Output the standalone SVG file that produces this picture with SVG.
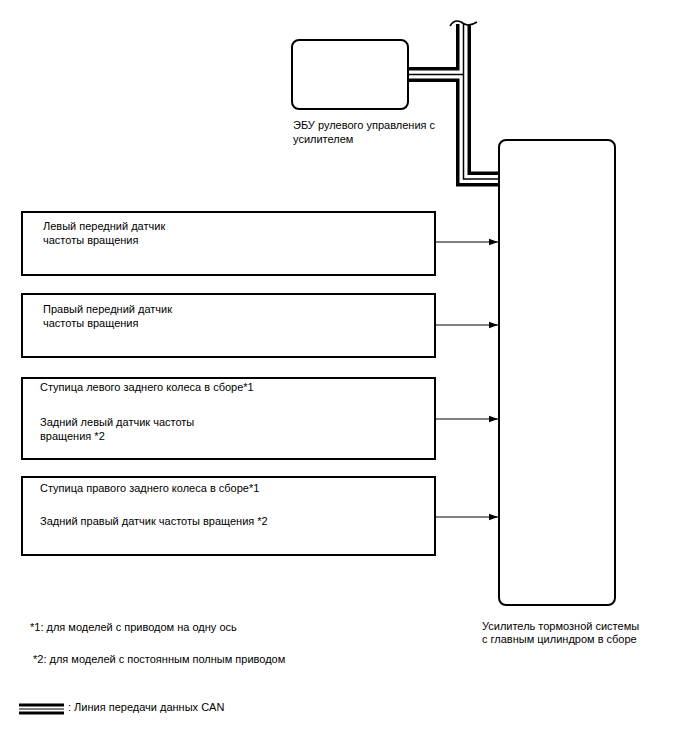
<svg xmlns="http://www.w3.org/2000/svg" width="688" height="755" viewBox="0 0 688 755">
<style>
text{font-family:"Liberation Sans",Arial,sans-serif;font-size:11px;fill:#000}
.box{fill:#fff;stroke:#000;stroke-width:2}
.c1{fill:none;stroke:#000;stroke-width:15}
.c2{fill:none;stroke:#fff;stroke-width:8}
.c3{fill:none;stroke:#000;stroke-width:1.5}
.arr{stroke:#000;stroke-width:1.2;fill:none;marker-end:url(#ah)}
</style>
<defs>
<marker id="ah" markerWidth="10" markerHeight="8" refX="9" refY="4" orient="auto" markerUnits="userSpaceOnUse">
<path d="M0,0.8 L9,4 L0,7.2 Z" fill="#000"/>
</marker>
</defs>
<g id="connectors">
<path class="c1" d="M408,74.5 H463.5 M463.5,24 V179 H499"/>
<path class="c2" d="M408,74.5 H463.5 M463.5,24 V179 H499"/>
<path class="c3" d="M408,74.5 H463.5 M463.5,24 V179 H499"/>
<path d="M450,26 C453,21 457,20 461,22 C465,25 469,27 477,22" fill="none" stroke="#000" stroke-width="1.6"/>
<line class="arr" x1="435" y1="242" x2="498" y2="242"/>
<line class="arr" x1="435" y1="325" x2="498" y2="325"/>
<line class="arr" x1="435" y1="419" x2="498" y2="419"/>
<line class="arr" x1="435" y1="517" x2="498" y2="517"/>
</g>
<g id="ecu">
<rect class="box" x="292" y="40" width="116" height="69" rx="7"/>
<text x="293" y="129">ЭБУ рулевого управления с</text>
<text x="293" y="143">усилителем</text>
</g>
<g id="booster">
<rect class="box" x="499" y="140" width="116" height="465" rx="7"/>
<text x="482" y="630">Усилитель тормозной системы</text>
<text x="482" y="643">с главным цилиндром в сборе</text>
</g>
<g id="fl">
<rect class="box" x="22" y="212" width="413" height="63"/>
<text x="43" y="230">Левый передний датчик</text>
<text x="43" y="244">частоты вращения</text>
</g>
<g id="fr">
<rect class="box" x="22" y="294" width="413" height="63"/>
<text x="43" y="313">Правый передний датчик</text>
<text x="43" y="327">частоты вращения</text>
</g>
<g id="rl">
<rect class="box" x="22" y="378" width="413" height="81"/>
<text x="40" y="391">Ступица левого заднего колеса в сборе*1</text>
<text x="40" y="426">Задний левый датчик частоты</text>
<text x="40" y="440">вращения *2</text>
</g>
<g id="rr">
<rect class="box" x="22" y="477" width="413" height="78"/>
<text x="40" y="492">Ступица правого заднего колеса в сборе*1</text>
<text x="40" y="525">Задний правый датчик частоты вращения *2</text>
</g>
<g id="notes">
<text x="30" y="631">*1: для моделей с приводом на одну ось</text>
<text x="33" y="663">*2: для моделей с постоянным полным приводом</text>
</g>
<g id="legend">
<path d="M19,709 H64" stroke="#000" stroke-width="11" fill="none"/>
<path d="M19,709 H64" stroke="#fff" stroke-width="5" fill="none"/>
<path d="M19,709 H64" stroke="#000" stroke-width="1.2" fill="none"/>
<text x="68" y="711">: Линия передачи данных CAN</text>
</g>
</svg>
